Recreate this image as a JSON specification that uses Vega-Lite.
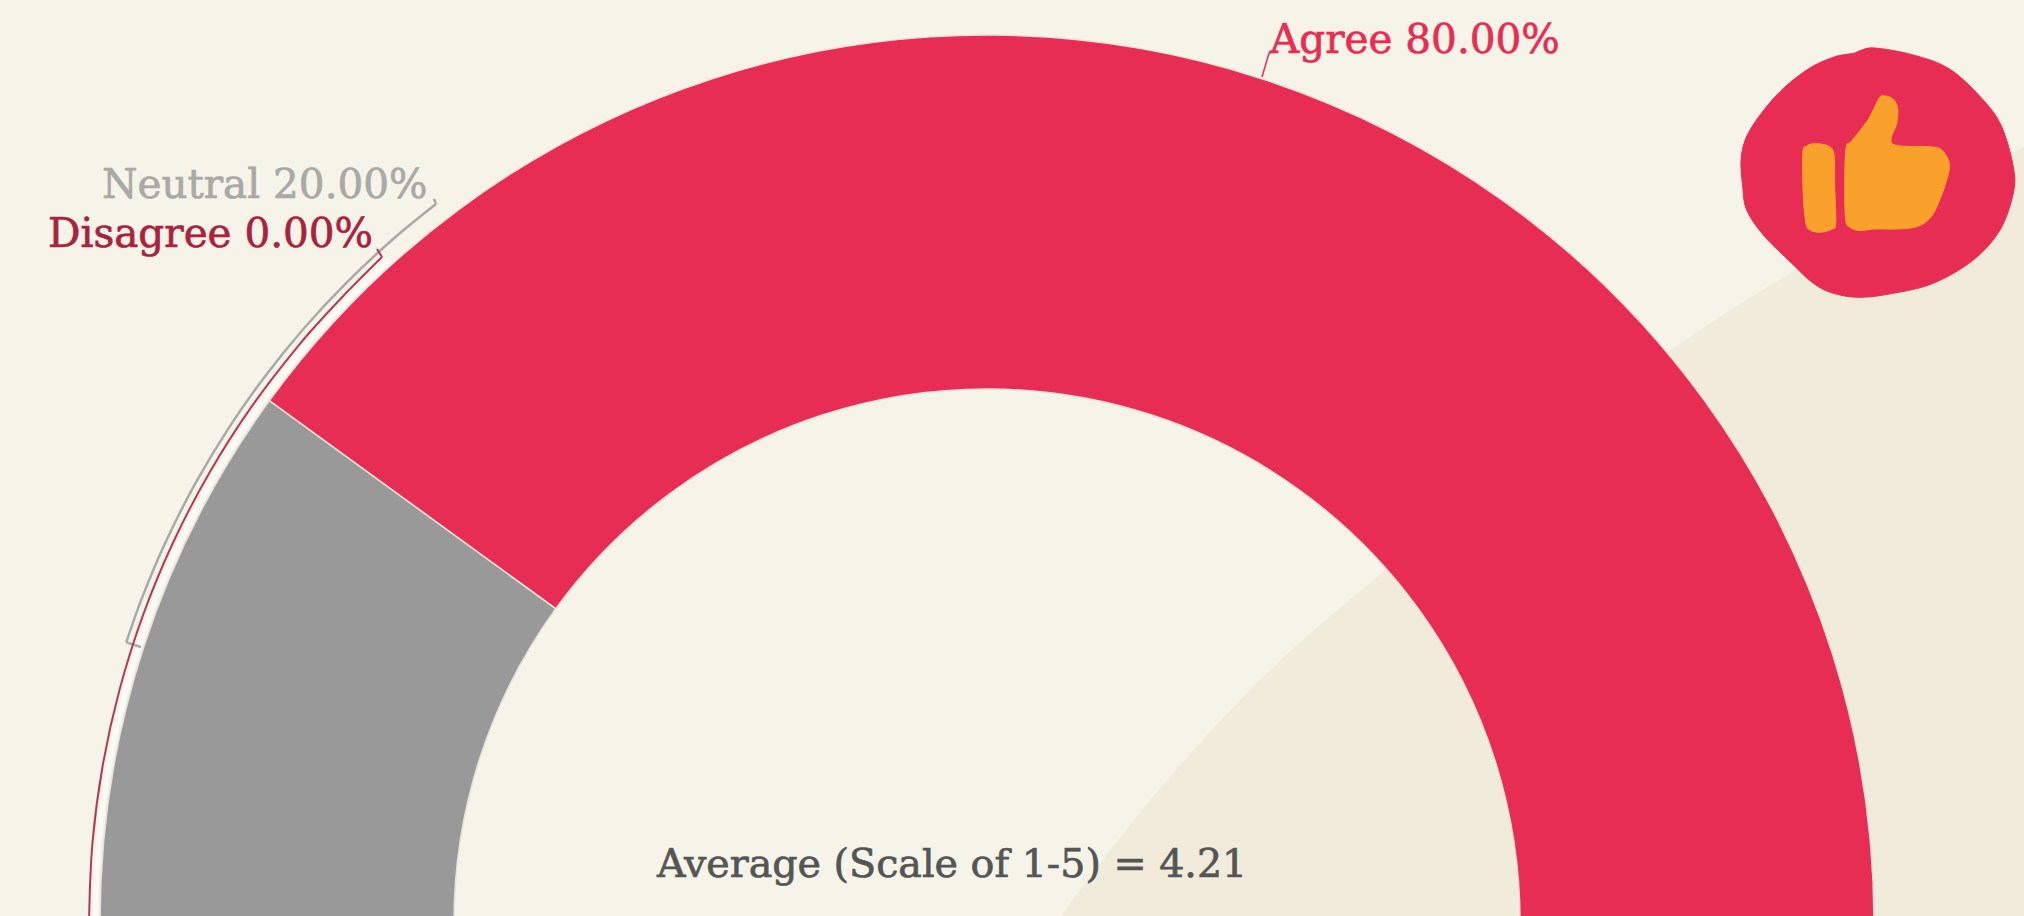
{"$schema":"https://vega.github.io/schema/vega-lite/v6.json","width":1974,"height":1844,"padding":{"left":0,"top":0,"right":50,"bottom":0},"autosize":{"type":"none"},"background":"#f6f4e8","config":{"view":{"stroke":null}},
"layer":[
{"encoding":{"x":{"field":"x","type":"quantitative","scale":{"domain":[0,1974],"nice":false,"zero":false},"axis":null},"y":{"field":"y","type":"quantitative","scale":{"domain":[0,1844],"reverse":true,"nice":false,"zero":false},"axis":null},"y2":{"field":"b"}},
"data":{"values":[{"x":1061,"y":916,"b":916},{"x":1134,"y":820,"b":916},{"x":1260,"y":680,"b":916},{"x":1388,"y":568,"b":916},{"x":1530,"y":453,"b":916},{"x":1672,"y":349,"b":916},{"x":1700,"y":330,"b":916},{"x":1792,"y":272,"b":916},{"x":2024,"y":147,"b":916}]},"mark":{"type":"area","color":"#f1ebdc","interpolate":"monotone"}},
{"data":{"values":[{"answer":"Disagree","share":0,"rank":1},{"answer":"Neutral","share":20,"rank":2},{"answer":"Agree","share":80,"rank":3}]},"mark":{"type":"arc","radius":887,"radius2":533,"stroke":"#e6e4da","strokeWidth":1.5},"encoding":{"theta":{"field":"share","type":"quantitative","stack":true,"scale":{"domain":[0,100],"range":[-1.5708,1.5708]}},"order":{"field":"rank"},"color":{"field":"answer","type":"nominal","legend":null,"scale":{"domain":["Agree","Neutral","Disagree"],"range":["#e72d53","#999999","#a8233f"]}}}},
{"encoding":{"x":{"field":"x","type":"quantitative","scale":{"domain":[0,1974],"nice":false,"zero":false},"axis":null},"y":{"field":"y","type":"quantitative","scale":{"domain":[0,1844],"reverse":true,"nice":false,"zero":false},"axis":null}},
"layer":[
{"data":{"values":[{"x":95,"y":922},{"x":98.4,"y":844.3},{"x":108.5,"y":767.1},{"x":125.4,"y":691.1},{"x":148.8,"y":616.9},{"x":178.6,"y":545},{"x":214.5,"y":476},{"x":256.3,"y":410.4},{"x":303.7,"y":348.6},{"x":345.3,"y":302.3},{"x":390.1,"y":259.1}]},"mark":{"type":"line","color":"#fbfaf4","strokeWidth":5,"interpolate":"cardinal"}},
{"data":{"values":[{"s":"n","o":1,"x":436,"y":204},{"s":"n","o":2,"x":393.2,"y":239},{"s":"n","o":3,"x":347.1,"y":282.1},{"s":"n","o":4,"x":304,"y":328.2},{"s":"n","o":5,"x":264.2,"y":377.4},{"s":"n","o":6,"x":228,"y":429.1},{"s":"n","o":7,"x":195.5,"y":483.2},{"s":"n","o":8,"x":166.8,"y":539.5},{"s":"n","o":9,"x":142.1,"y":597.6},{"s":"n","o":10,"x":126.3,"y":642.4},{"s":"nb","o":1,"x":126.3,"y":642.4},{"s":"nb","o":2,"x":141,"y":647},{"s":"nt","o":1,"x":436,"y":204},{"s":"nt","o":2,"x":434,"y":199}]},"mark":{"type":"line","color":"#a9a9a6","strokeWidth":2.5,"interpolate":"cardinal"},"encoding":{"detail":{"field":"s"},"order":{"field":"o"}}},
{"data":{"values":[{"s":"d","o":1,"x":382,"y":257},{"s":"d","o":2,"x":341.1,"y":298.2},{"s":"d","o":3,"x":299.1,"y":344.8},{"s":"d","o":4,"x":251.4,"y":406.9},{"s":"d","o":5,"x":209.3,"y":473},{"s":"d","o":6,"x":173.1,"y":542.5},{"s":"d","o":7,"x":143.1,"y":614.9},{"s":"d","o":8,"x":119.6,"y":689.6},{"s":"d","o":9,"x":102.6,"y":766.1},{"s":"d","o":10,"x":92.4,"y":843.7},{"s":"d","o":11,"x":89,"y":922},{"s":"dt","o":1,"x":382,"y":257},{"s":"dt","o":2,"x":377,"y":249}]},"mark":{"type":"line","color":"#b23a58","strokeWidth":2,"interpolate":"cardinal"},"encoding":{"detail":{"field":"s"},"order":{"field":"o"}}},
{"data":{"values":[{"o":1,"x":1262,"y":77},{"o":2,"x":1269,"y":53},{"o":3,"x":1273,"y":52}]},"mark":{"type":"line","color":"#e72d53","strokeWidth":1.5},"encoding":{"order":{"field":"o"}}},
{"data":{"values":[{"o":1,"x":1860,"y":50.7},{"o":2,"x":1875,"y":48},{"o":3,"x":1913.3,"y":55},{"o":4,"x":1950,"y":69.3},{"o":5,"x":1983.3,"y":100},{"o":6,"x":2001.7,"y":126.7},{"o":7,"x":2013.3,"y":166.7},{"o":8,"x":2013.3,"y":193.3},{"o":9,"x":2000,"y":230},{"o":10,"x":1973.3,"y":260},{"o":11,"x":1933.3,"y":283.3},{"o":12,"x":1893.3,"y":293.3},{"o":13,"x":1860,"y":297.3},{"o":14,"x":1833.3,"y":293.3},{"o":15,"x":1813.3,"y":283.3},{"o":16,"x":1791.7,"y":263.3},{"o":17,"x":1763.3,"y":235},{"o":18,"x":1746.7,"y":210},{"o":19,"x":1742.7,"y":186.7},{"o":20,"x":1741.3,"y":156.7},{"o":21,"x":1750,"y":130},{"o":22,"x":1776.7,"y":95},{"o":23,"x":1806.7,"y":70},{"o":24,"x":1833.3,"y":57.3},{"o":25,"x":1853.3,"y":53.3}]},"mark":{"type":"line","fill":"#e72d53","stroke":"#e72d53","strokeWidth":1,"interpolate":"cardinal-closed","tension":0},"encoding":{"order":{"field":"o"}}},
{"data":{"values":[{"p":"bar","o":1,"x":1802.7,"y":153.3},{"p":"bar","o":2,"x":1806.7,"y":146},{"p":"bar","o":3,"x":1815,"y":143.7},{"p":"bar","o":4,"x":1828.3,"y":146},{"p":"bar","o":5,"x":1834,"y":155},{"p":"bar","o":6,"x":1834.7,"y":186.7},{"p":"bar","o":7,"x":1835.7,"y":223.3},{"p":"bar","o":8,"x":1831.7,"y":229.3},{"p":"bar","o":9,"x":1820,"y":232.3},{"p":"bar","o":10,"x":1810,"y":230},{"p":"bar","o":11,"x":1806,"y":223.3},{"p":"bar","o":12,"x":1803.3,"y":196.7},
{"p":"thumb","o":1,"x":1846,"y":148.3},{"p":"thumb","o":2,"x":1851.7,"y":141},{"p":"thumb","o":3,"x":1866.7,"y":121.7},{"p":"thumb","o":4,"x":1873.3,"y":110},{"p":"thumb","o":5,"x":1879,"y":98.3},{"p":"thumb","o":6,"x":1883.3,"y":95.7},{"p":"thumb","o":7,"x":1892.7,"y":98.7},{"p":"thumb","o":8,"x":1897.7,"y":108.3},{"p":"thumb","o":9,"x":1896.7,"y":123.3},{"p":"thumb","o":10,"x":1892.7,"y":144},{"p":"thumb","o":11,"x":1930,"y":146.7},{"p":"thumb","o":12,"x":1941.7,"y":150},{"p":"thumb","o":13,"x":1949.3,"y":163.3},{"p":"thumb","o":14,"x":1946.7,"y":180},{"p":"thumb","o":15,"x":1938.3,"y":203.3},{"p":"thumb","o":16,"x":1930,"y":218.3},{"p":"thumb","o":17,"x":1916.7,"y":226.7},{"p":"thumb","o":18,"x":1896.7,"y":229},{"p":"thumb","o":19,"x":1873.3,"y":229},{"p":"thumb","o":20,"x":1860,"y":230.7},{"p":"thumb","o":21,"x":1850,"y":227.3},{"p":"thumb","o":22,"x":1845.7,"y":220},{"p":"thumb","o":23,"x":1844.7,"y":186.7}]},"mark":{"type":"line","fill":"#f9a12a","stroke":"#f9a12a","strokeWidth":1,"interpolate":"cardinal-closed","tension":0},"encoding":{"detail":{"field":"p"},"order":{"field":"o"}}},
{"data":{"values":[{"label":"Agree 80.00%","x":1270,"y":53,"c":"Agree"},{"label":"Neutral 20.00%","x":102,"y":198,"c":"Neutral"},{"label":"Disagree 0.00%","x":48,"y":247,"c":"Disagree"}]},"mark":{"type":"text","font":"DejaVu Serif","fontSize":40.5,"align":"left","baseline":"alphabetic","strokeWidth":0.7},"encoding":{"text":{"field":"label"},"color":{"field":"c","type":"nominal","legend":null,"scale":{"domain":["Agree","Neutral","Disagree"],"range":["#e72d53","#a9a9a6","#a8233f"]}},"stroke":{"field":"c","type":"nominal","legend":null,"scale":{"domain":["Agree","Neutral","Disagree"],"range":["#e72d53","#a9a9a6","#a8233f"]}}}},
{"data":{"values":[{"label":"Average (Scale of 1-5) = 4.21","x":657,"y":877}]},"mark":{"type":"text","font":"DejaVu Serif","fontSize":39.6,"align":"left","baseline":"alphabetic","color":"#555555","stroke":"#555555","strokeWidth":0.7},"encoding":{"text":{"field":"label"}}}
]}
],"resolve":{"scale":{"color":"independent","stroke":"independent"}}}
